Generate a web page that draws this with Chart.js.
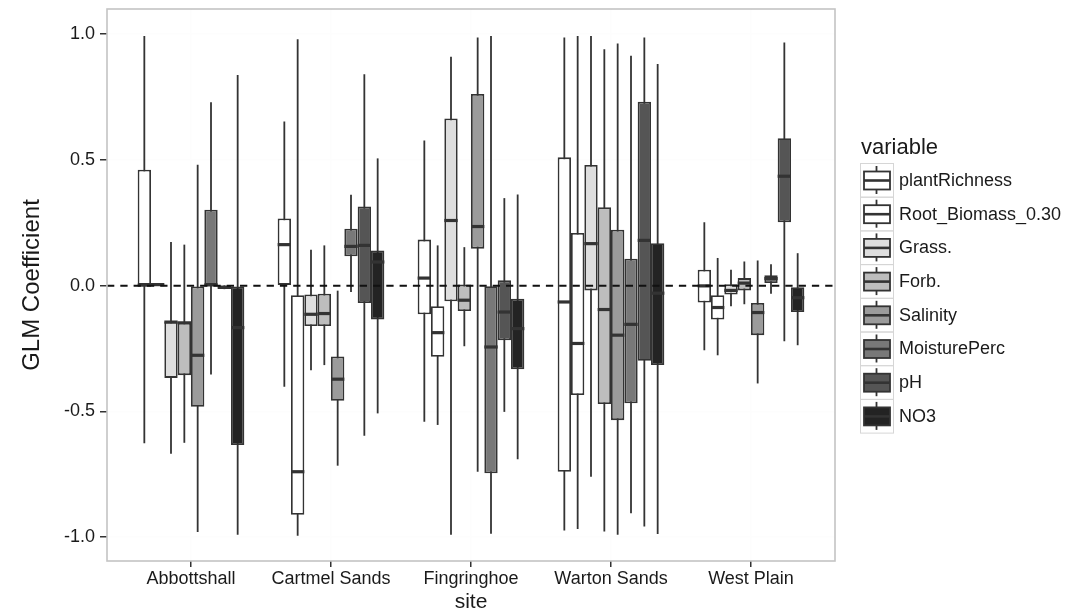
<!DOCTYPE html>
<html>
<head>
<meta charset="utf-8">
<script src="https://cdn.jsdelivr.net/npm/chart.js@4/dist/chart.umd.min.js"></script>
<style>
  html, body { margin: 0; padding: 0; background: #ffffff; }
  canvas { display: block; }
</style>
</head>
<body>
<canvas id="chart" width="1070" height="616"></canvas>
<script>
// Sites along the x axis and the predictor variables (one box per variable per site)
const sites = ['Abbottshall', 'Cartmel Sands', 'Fingringhoe', 'Warton Sands', 'West Plain'];
const variables = ['plantRichness', 'Root_Biomass_0.30', 'Grass.', 'Forb.', 'Salinity', 'MoisturePerc', 'pH', 'NO3'];
const fillGreys = ['#ffffff', '#ffffff', '#dedede', '#bdbdbd', '#9b9b9b', '#787878', '#555555', '#232323'];
const yTicks = [-1, -0.5, 0, 0.5, 1];

// Five-number summaries per site: [lower whisker, Q1, median, Q3, upper whisker]
const plantRichness = [
  [-0.627, 0.000, 0.002, 0.461, 0.993],
  [-0.402, 0.000, 0.163, 0.267, 0.653],
  [-0.541, -0.114, 0.030, 0.183, 0.577],
  [-0.974, -0.740, -0.065, 0.510, 0.987],
  [-0.257, -0.067, -0.001, 0.063, 0.252]
];
const rootBiomass = [
  [-0.001, 0.000, 0.004, 0.007, 0.008],
  [-0.995, -0.911, -0.740, -0.038, 0.980],
  [-0.554, -0.283, -0.187, -0.082, 0.160],
  [-0.968, -0.435, -0.230, 0.209, 0.993],
  [-0.277, -0.135, -0.087, -0.038, 0.110]
];
const grass = [
  [-0.669, -0.367, -0.145, -0.143, 0.173],
  [-0.336, -0.161, -0.114, -0.035, 0.143],
  [-0.991, -0.062, 0.259, 0.665, 0.910],
  [-0.760, -0.019, 0.167, 0.480, 0.993],
  [-0.082, -0.035, -0.019, 0.005, 0.063]
];
const forb = [
  [-0.625, -0.356, -0.148, -0.146, 0.163],
  [-0.316, -0.161, -0.111, -0.032, 0.160],
  [-0.241, -0.101, -0.058, 0.004, 0.153],
  [-0.978, -0.471, -0.095, 0.312, 0.940],
  [-0.074, -0.019, 0.010, 0.030, 0.096]
];
const salinity = [
  [-0.980, -0.482, -0.277, 0.000, 0.481],
  [-0.716, -0.458, -0.372, -0.282, -0.020],
  [-0.740, 0.147, 0.235, 0.762, 0.987],
  [-0.991, -0.535, -0.197, 0.222, 0.963],
  [-0.389, -0.197, -0.107, -0.069, 0.100]
];
const moisturePerc = [
  [-0.353, 0.000, 0.003, 0.302, 0.729],
  [-0.025, 0.117, 0.156, 0.226, 0.361],
  [-0.987, -0.746, -0.244, -0.002, 0.993],
  [-0.905, -0.468, -0.154, 0.107, 0.914],
  [-0.032, 0.010, 0.028, 0.041, 0.085]
];
const pH = [
  [-0.014, -0.013, -0.006, 0.000, 0.001],
  [-0.597, -0.069, 0.160, 0.315, 0.841],
  [-0.502, -0.217, -0.105, 0.021, 0.348],
  [-0.958, -0.299, 0.180, 0.731, 0.987],
  [-0.221, 0.252, 0.435, 0.586, 0.967]
];
const no3 = [
  [-0.991, -0.634, -0.167, 0.000, 0.838],
  [-0.508, -0.135, 0.094, 0.140, 0.506],
  [-0.690, -0.333, -0.171, -0.052, 0.362],
  [-0.988, -0.316, -0.030, 0.169, 0.881],
  [-0.237, -0.105, -0.048, -0.006, 0.129]
];

const summaries = [plantRichness, rootBiomass, grass, forb, salinity, moisturePerc, pH, no3];

const FONT = "'Liberation Sans', Arial, sans-serif";
const LINE = '#333333';
const TEXT = '#1a1a1a';
const STROKE = 1.8;

// Boxes are floating bars spanning Q1..Q3 on a linear site axis
const datasets = variables.map((name, v) => ({
  label: name,
  data: summaries[v].map((s, i) => ({ x: i + 1, y: [s[1], s[3]] })),
  backgroundColor: fillGreys[v],
  borderColor: LINE,
  borderWidth: STROKE,
  borderSkipped: false,
  categoryPercentage: 0.762,
  barPercentage: 1
}));

// Whiskers behind the boxes, medians and the zero reference line on top
const boxParts = {
  id: 'boxParts',
  beforeDatasetsDraw(chart) {
    const { ctx } = chart;
    const y = chart.scales.y;
    ctx.save();
    ctx.strokeStyle = LINE;
    ctx.lineWidth = STROKE;
    chart.data.datasets.forEach((ds, v) => {
      chart.getDatasetMeta(v).data.forEach((bar, i) => {
        const s = summaries[v][i];
        ctx.beginPath();
        ctx.moveTo(bar.x, y.getPixelForValue(s[0]));
        ctx.lineTo(bar.x, y.getPixelForValue(s[4]));
        ctx.stroke();
      });
    });
    ctx.restore();
  },
  afterDatasetsDraw(chart) {
    const { ctx, chartArea } = chart;
    const y = chart.scales.y;
    ctx.save();
    ctx.strokeStyle = LINE;
    ctx.lineWidth = 3.2;
    chart.data.datasets.forEach((ds, v) => {
      chart.getDatasetMeta(v).data.forEach((bar, i) => {
        const m = y.getPixelForValue(summaries[v][i][2]);
        ctx.beginPath();
        ctx.moveTo(bar.x - bar.width / 2, m);
        ctx.lineTo(bar.x + bar.width / 2, m);
        ctx.stroke();
      });
    });
    // dashed reference line at zero
    const y0 = y.getPixelForValue(0);
    ctx.strokeStyle = '#111111';
    ctx.lineWidth = 2;
    ctx.setLineDash([7.3, 6]);
    ctx.beginPath();
    ctx.moveTo(chartArea.left, y0);
    ctx.lineTo(chartArea.right, y0);
    ctx.stroke();
    ctx.setLineDash([]);
    // panel border
    ctx.strokeStyle = '#c4c4c4';
    ctx.lineWidth = 1.6;
    ctx.strokeRect(chartArea.left, chartArea.top, chartArea.right - chartArea.left, chartArea.bottom - chartArea.top);
    ctx.restore();
  }
};

// Legend with box-glyph keys to the right of the panel
const boxLegend = {
  id: 'boxLegend',
  afterDraw(chart) {
    const { ctx } = chart;
    const keyX = 860, keyW = 33, keyTop = 163, keyH = 33.7;
    ctx.save();
    ctx.fillStyle = TEXT;
    ctx.textBaseline = 'middle';
    ctx.textAlign = 'left';
    ctx.font = `22px ${FONT}`;
    ctx.fillText('variable', 861, 148);
    chart.data.datasets.forEach((ds, v) => {
      const top = keyTop + v * keyH;
      const cx = keyX + keyW / 2;
      ctx.strokeStyle = '#d6d6d6';
      ctx.lineWidth = 1;
      ctx.strokeRect(keyX + 0.5, top + 0.5, keyW, keyH);
      ctx.strokeStyle = LINE;
      ctx.lineWidth = STROKE;
      ctx.beginPath();
      ctx.moveTo(cx, top + 3);
      ctx.lineTo(cx, top + 31);
      ctx.stroke();
      ctx.fillStyle = ds.backgroundColor;
      ctx.fillRect(keyX + 4, top + 8.5, keyW - 7, 18);
      ctx.strokeRect(keyX + 4, top + 8.5, keyW - 7, 18);
      ctx.lineWidth = 2.6;
      ctx.beginPath();
      ctx.moveTo(keyX + 4, top + 17.5);
      ctx.lineTo(keyX + keyW - 3, top + 17.5);
      ctx.stroke();
      ctx.fillStyle = TEXT;
      ctx.font = `18px ${FONT}`;
      ctx.fillText(ds.label, 899, top + 18);
    });
    ctx.restore();
  }
};

new Chart(document.getElementById('chart'), {
  type: 'bar',
  data: { datasets },
  options: {
    responsive: false,
    animation: false,
    events: [],
    layout: { padding: { top: 9, right: 235, left: 0, bottom: 0 } },
    plugins: { legend: { display: false }, tooltip: { enabled: false } },
    scales: {
      x: {
        type: 'linear',
        offset: false,
        min: 0.4,
        max: 5.6,
        afterBuildTicks(scale) { scale.ticks = sites.map((s, i) => ({ value: i + 1 })); },
        afterFit(scale) { scale.height = 55; scale.paddingLeft = 0; scale.paddingRight = 0; },
        grid: { offset: false, color: '#fdfdfd', tickColor: LINE, tickLength: 6, lineWidth: 1.5 },
        border: { display: false },
        ticks: {
          autoSkip: false,
          maxRotation: 0,
          padding: 1,
          color: TEXT,
          font: { family: FONT, size: 18 },
          callback: (value) => sites[value - 1] || ''
        },
        title: { display: true, text: 'site', color: TEXT, font: { family: FONT, size: 21 }, padding: { top: 0, bottom: 1 } }
      },
      y: {
        min: -1.095,
        max: 1.1,
        afterBuildTicks(scale) { scale.ticks = yTicks.map(v => ({ value: v })); },
        afterFit(scale) { scale.width = 107; scale.paddingTop = 0; scale.paddingBottom = 0; },
        grid: { offset: false, color: '#fdfdfd', tickColor: LINE, tickLength: 7, lineWidth: 1.5 },
        border: { display: false },
        ticks: {
          padding: 5,
          color: TEXT,
          font: { family: FONT, size: 18 },
          callback: (value) => value.toFixed(1)
        },
        title: { display: true, text: 'GLM Coefficient', color: TEXT, font: { family: FONT, size: 24 }, padding: { top: 18, bottom: 0 } }
      }
    }
  },
  plugins: [boxParts, boxLegend]
});
</script>
</body>
</html>
